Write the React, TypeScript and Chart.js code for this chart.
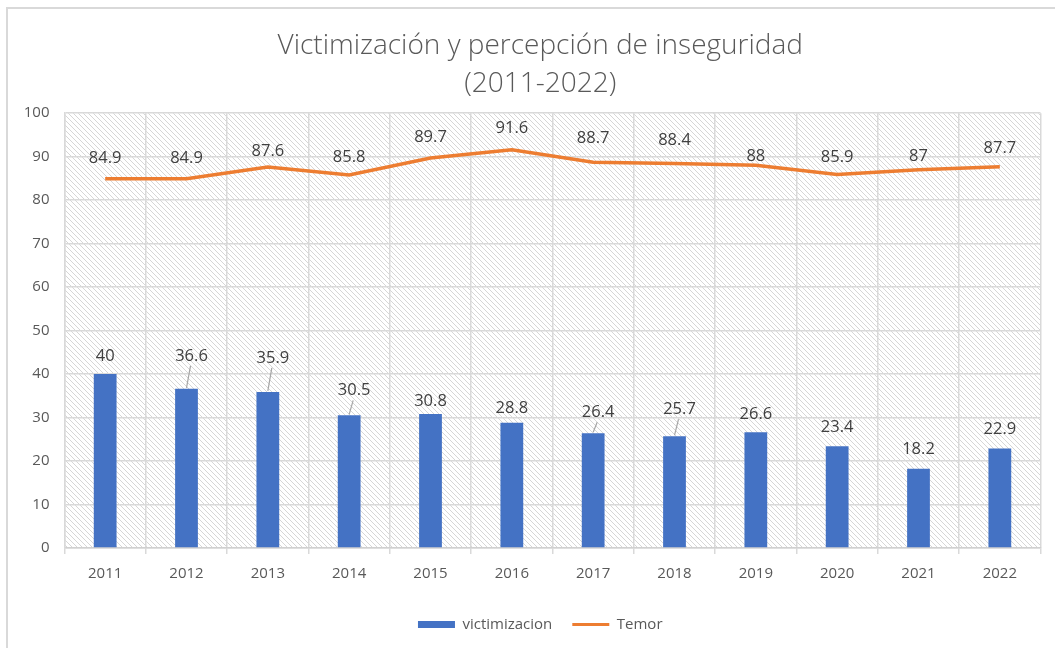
import { useEffect, useRef } from 'react';
import { Chart, registerables } from 'chart.js';

Chart.register(...registerables);

const years = ['2011', '2012', '2013', '2014', '2015', '2016', '2017', '2018', '2019', '2020', '2021', '2022'];
const victimizacion = [40, 36.6, 35.9, 30.5, 30.8, 28.8, 26.4, 25.7, 26.6, 23.4, 18.2, 22.9];
const temor = [84.9, 84.9, 87.6, 85.8, 89.7, 91.6, 88.7, 88.4, 88, 85.9, 87, 87.7];

// label placement (style only)
const barLabelLift = [18, 33, 34, 25, 13, 14, 21, 27, 18, 19, 20, 19];
const barLabelLeader = [false, true, true, true, false, false, true, true, false, false, false, false];
const lineLabelLift = [21, 21, 16, 18, 21, 21, 24, 23, 9, 17, 13, 18];

const FONT = "'Open Sans', 'DejaVu Sans', sans-serif";
const TICK_SIZE = 15;

function makeHatch(ctx: CanvasRenderingContext2D): CanvasPattern | string {
  const s = 5;
  const c = document.createElement('canvas');
  c.width = s;
  c.height = s;
  const g = c.getContext('2d');
  if (!g) return '#f4f4f4';
  g.fillStyle = '#ffffff';
  g.fillRect(0, 0, s, s);
  g.strokeStyle = '#d6d6d6';
  g.lineWidth = 1;
  g.beginPath();
  g.moveTo(-1, -1);
  g.lineTo(s + 1, s + 1);
  g.moveTo(-1, s - 1);
  g.lineTo(1, s + 1);
  g.moveTo(s - 1, -1);
  g.lineTo(s + 1, 1);
  g.stroke();
  return ctx.createPattern(c, 'repeat') || '#f4f4f4';
}

export default function App() {
  const ref = useRef<HTMLCanvasElement | null>(null);

  useEffect(() => {
    const canvas = ref.current;
    if (!canvas) return;
    const ctx0 = canvas.getContext('2d');
    if (!ctx0) return;
    const hatch = makeHatch(ctx0);
    ctx0.font = `${TICK_SIZE}px ${FONT}`;
    const widest = ctx0.measureText('100').width;

    const bgPlugin = {
      id: 'bgHatch',
      beforeDraw(chart: any) {
        const { ctx, chartArea } = chart;
        const { left, top, right, bottom } = chartArea;
        ctx.save();
        ctx.fillStyle = '#ffffff';
        ctx.fillRect(0, 0, chart.width, chart.height);
        ctx.strokeStyle = '#d9d9d9';
        ctx.lineWidth = 2;
        ctx.strokeRect(7, 8, 1200, 800);
        ctx.fillStyle = hatch;
        ctx.fillRect(left, top, right - left, bottom - top);
        ctx.restore();
      },
    };

    const labelPlugin = {
      id: 'valueLabels',
      afterDatasetsDraw(chart: any) {
        const { ctx } = chart;
        ctx.save();
        ctx.font = `16.5px ${FONT}`;
        ctx.textAlign = 'center';
        ctx.textBaseline = 'middle';
        const barMeta = chart.getDatasetMeta(0);
        barMeta.data.forEach((bar: any, i: number) => {
          const x = bar.x;
          const top = bar.y;
          const ty = top - barLabelLift[i];
          const dx = barLabelLeader[i] ? 5 : 0;
          if (barLabelLeader[i]) {
            ctx.strokeStyle = '#a6a6a6';
            ctx.lineWidth = 1.2;
            ctx.beginPath();
            ctx.moveTo(x + dx - 1, ty + 10);
            ctx.lineTo(x, top - 1);
            ctx.stroke();
          }
          ctx.fillStyle = '#404040';
          ctx.fillText(String(victimizacion[i]), x + dx, ty);
        });
        const lineMeta = chart.getDatasetMeta(1);
        lineMeta.data.forEach((pt: any, i: number) => {
          ctx.fillStyle = '#404040';
          ctx.fillText(String(temor[i]), pt.x, pt.y - lineLabelLift[i]);
        });
        ctx.restore();
      },
    };

    const chart = new Chart(canvas, {
      type: 'bar',
      data: {
        labels: years,
        datasets: [
          {
            type: 'bar',
            label: 'victimizacion',
            data: victimizacion,
            backgroundColor: '#4472C4',
            barPercentage: 0.56,
            categoryPercentage: 0.5,
          },
          {
            type: 'line',
            label: 'Temor',
            data: temor,
            borderColor: '#ED7D31',
            backgroundColor: '#ED7D31',
            borderWidth: 3.5,
            pointRadius: 0,
            tension: 0,
          },
        ] as any,
      },
      options: {
        responsive: false,
        animation: false,
        layout: { padding: { left: 40, right: 14.5, top: 0, bottom: 6 } },
        scales: {
          x: {
            offset: true,
            grid: {
              offset: true,
              color: '#d9d9d9',
              lineWidth: 1.5,
              drawTicks: true,
              tickLength: 6,
            },
            border: { color: '#d0d0d0', width: 1.5 },
            ticks: { color: '#595959', font: { family: FONT, size: TICK_SIZE }, padding: 11 },
            afterFit(scale: any) {
              scale.height = 49;
            },
          },
          y: {
            min: 0,
            max: 100,
            ticks: {
              stepSize: 10,
              color: '#595959',
              font: { family: FONT, size: TICK_SIZE },
              mirror: true,
              crossAlign: 'far',
              padding: -15 - widest,
            },
            grid: { color: '#d9d9d9', lineWidth: 1.5, drawTicks: false },
            border: { color: '#d9d9d9', width: 1.5 },
            afterFit(scale: any) {
              scale.width = 24.5;
            },
          },
        },
        plugins: {
          title: {
            display: true,
            text: ['Victimización y percepción de inseguridad', '(2011-2022)'],
            color: '#595959',
            font: { family: FONT, size: 28, weight: 300, lineHeight: 1.36 },
            padding: { top: 27, bottom: 10 },
          },
          legend: {
            position: 'bottom',
            labels: {
              usePointStyle: true,
              pointStyleWidth: 37,
              boxHeight: 7,
              boxWidth: 37,
              color: '#595959',
              font: { family: FONT, size: TICK_SIZE },
              padding: 20,
              generateLabels: () => [
                {
                  text: 'victimizacion',
                  fillStyle: '#4472C4',
                  strokeStyle: '#4472C4',
                  lineWidth: 0,
                  pointStyle: 'rect',
                  fontColor: '#595959',
                  datasetIndex: 0,
                  hidden: false,
                },
                {
                  text: 'Temor',
                  fillStyle: '#ED7D31',
                  strokeStyle: '#ED7D31',
                  lineWidth: 3,
                  pointStyle: 'line',
                  fontColor: '#595959',
                  datasetIndex: 1,
                  hidden: false,
                },
              ],
            },
          },
          tooltip: { enabled: false },
        },
      } as any,
      plugins: [bgPlugin, labelPlugin],
    });

    return () => chart.destroy();
  }, []);

  return (
    <div style={{ position: 'absolute', left: 0, top: 0, width: 1055, height: 648 }}>
      <canvas ref={ref} width={1055} height={648} style={{ width: 1055, height: 648, display: 'block' }} />
    </div>
  );
}
